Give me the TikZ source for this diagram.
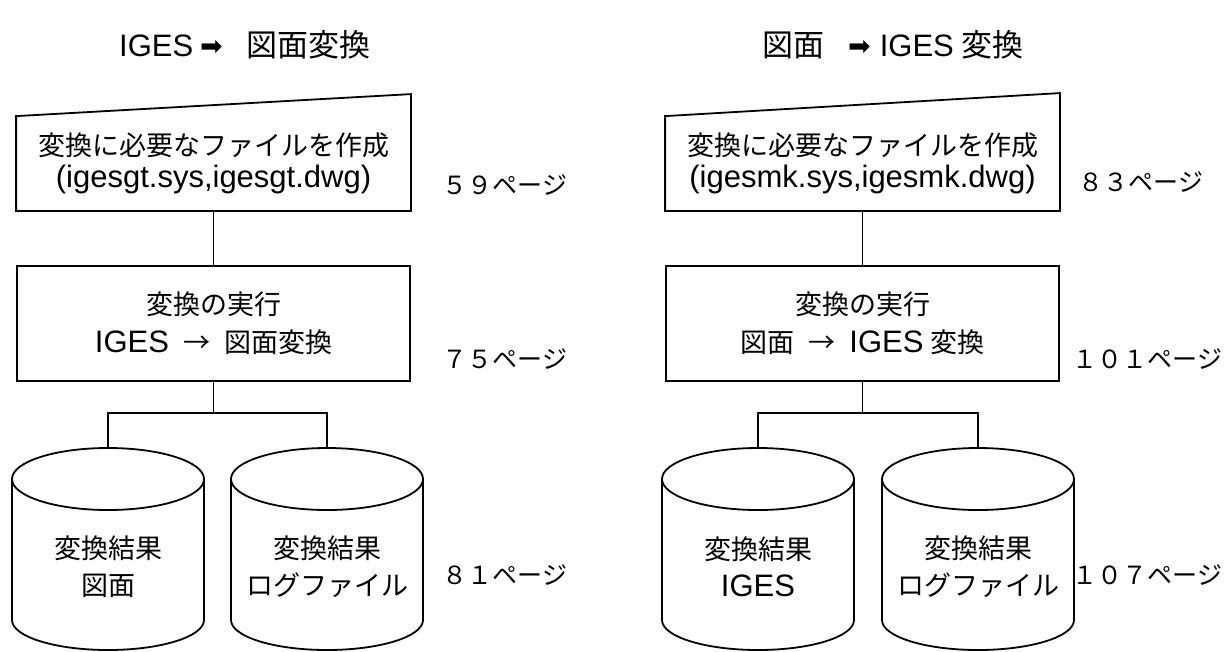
\documentclass[tikz,border=0pt]{standalone}
\usepackage{fontspec}
\setmainfont{Liberation Sans}
\newfontfamily\jpfont{Noto Sans CJK JP}
\newfontfamily\symfont{DejaVu Sans}
\newcommand\jpx[1]{{\jpfont #1}}
\newcommand\latx[1]{{\fontsize{31}{32}\selectfont #1}}
\newcommand\barrow{\raisebox{1pt}{\symfont\fontsize{27}{30}\selectfont ➡}}
\begin{document}
\begin{tikzpicture}[x=1pt,y=-1pt,line width=1.8pt,
  title/.style={font=\fontsize{31}{36}\selectfont,inner sep=0pt},
  inputbox/.style={minimum width=393pt,minimum height=93pt,inner sep=0pt,align=center,font=\fontsize{27}{32}\selectfont},
  procbox/.style={draw,minimum width=393pt,minimum height=115pt,inner sep=0pt,align=center,font=\fontsize{27}{38}\selectfont},
  cyltext/.style={align=center,inner sep=0pt,font=\fontsize{27}{37}\selectfont},
  pagelabel/.style={anchor=west,inner sep=0pt,font=\jpfont\fontsize{25}{28}\selectfont},
  conn/.style={line width=1.8pt}]
\useasboundingbox (0,0) rectangle (1225,651);

% ---------- titles
\node[title] (tL) at (245,45) {IGES\hspace{7pt}\barrow\hspace{24pt}\jpx{図面変換}};
\node[title] (tR) at (893,45) {\jpx{図面}\hspace{24pt}\barrow\hspace{9pt}IGES\hspace{8pt}\jpx{変換}};

% ---------- left column
\node[inputbox] (mL) at (213.5,163.5) {\jpx{変換に必要なファイルを作成}\\\latx{(igesgt.sys,igesgt.dwg)}};
\draw (mL.south west) -- (mL.north west) -- ([yshift=22pt]mL.north east) -- (mL.south east) -- cycle;
\node[procbox] (pL) at (213.5,323.5) {\jpx{変換の実行}\\\latx{IGES}\hspace{14pt}\jpx{→}\hspace{14pt}\jpx{図面変換}};
\draw[conn] (mL.south) -- (pL.north);

\draw (108,479) ellipse [x radius=96pt,y radius=31pt];
\draw (12,479) -- (12,620) arc [start angle=180,end angle=360,x radius=96pt,y radius=30pt] -- (204,479);
\coordinate (c1) at (108,448);
\draw (327,479) ellipse [x radius=96pt,y radius=31pt];
\draw (231,479) -- (231,620) arc [start angle=180,end angle=360,x radius=96pt,y radius=30pt] -- (423,479);
\coordinate (c2) at (327,448);
\coordinate (jL) at (213.5,413);
\draw[conn] (pL.south) -- (jL);
\draw[conn] (c1) -- (c1 |- jL) -- (c2 |- jL) -- (c2);
\node[cyltext] (r1) at (108,567) {\jpx{変換結果}\\\jpx{図面}};
\node[cyltext] (r2) at (327,567) {\jpx{変換結果}\\\jpx{ログファイル}};

\node[pagelabel] (p59) at (442,185) {５９ページ};
\node[pagelabel] (p75) at (442,359) {７５ページ};
\node[pagelabel] (p81) at (442,575) {８１ページ};

% ---------- right column
\node[inputbox] (mR) at (862.5,163.5) {\jpx{変換に必要なファイルを作成}\\\latx{(igesmk.sys,igesmk.dwg)}};
\draw (mR.south west) -- (mR.north west) -- ([yshift=23pt]mR.north east) -- (mR.south east) -- cycle;
\node[procbox] (pR) at (862.5,323.5) {\jpx{変換の実行}\\\jpx{図面}\hspace{14pt}\jpx{→}\hspace{14pt}\latx{IGES}\hspace{7pt}\jpx{変換}};
\draw[conn] (mR.south) -- (pR.north);

\draw (758,479) ellipse [x radius=96pt,y radius=31pt];
\draw (662,479) -- (662,620) arc [start angle=180,end angle=360,x radius=96pt,y radius=30pt] -- (854,479);
\coordinate (c3) at (758,448);
\draw (978,479) ellipse [x radius=96pt,y radius=31pt];
\draw (882,479) -- (882,620) arc [start angle=180,end angle=360,x radius=96pt,y radius=30pt] -- (1074,479);
\coordinate (c4) at (978,448);
\coordinate (jR) at (862.5,413);
\draw[conn] (pR.south) -- (jR);
\draw[conn] (c3) -- (c3 |- jR) -- (c4 |- jR) -- (c4);
\node[cyltext] (r3) at (758,567) {\jpx{変換結果}\\\latx{IGES}};
\node[cyltext] (r4) at (978,567) {\jpx{変換結果}\\\jpx{ログファイル}};

\node[pagelabel] (p83) at (1078,182) {８３ページ};
\node[pagelabel] (p101) at (1072,359) {１０１ページ};
\node[pagelabel] (p107) at (1072,575) {１０７ページ};
\end{tikzpicture}
\end{document}
